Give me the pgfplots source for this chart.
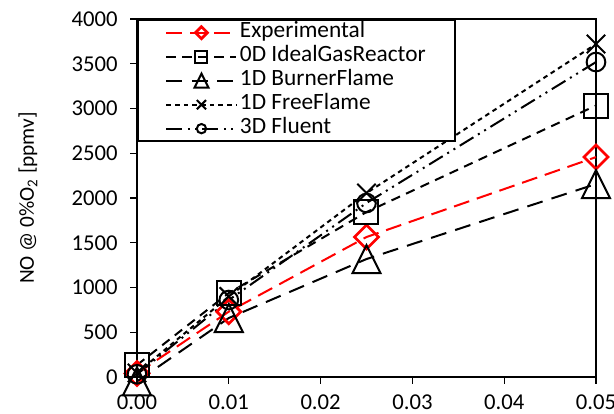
\documentclass[border=0pt]{standalone}
\usepackage{pgfplots}
\pgfplotsset{compat=1.18}
\usepackage{fontspec}
\setmainfont{Carlito}
\pgfdeclareplotmark{ediamond}{%
  \pgfpathmoveto{\pgfqpoint{0pt}{\pgfplotmarksize}}%
  \pgfpathlineto{\pgfqpoint{\pgfplotmarksize}{0pt}}%
  \pgfpathlineto{\pgfqpoint{0pt}{-\pgfplotmarksize}}%
  \pgfpathlineto{\pgfqpoint{-\pgfplotmarksize}{0pt}}%
  \pgfpathclose\pgfusepathqstroke}
\pgfdeclareplotmark{etri}{%
  \pgfpathmoveto{\pgfqpoint{0pt}{\pgfplotmarksize}}%
  \pgfpathlineto{\pgfqpoint{\pgfplotmarksize}{-\pgfplotmarksize}}%
  \pgfpathlineto{\pgfqpoint{-\pgfplotmarksize}{-\pgfplotmarksize}}%
  \pgfpathclose\pgfusepathqstroke}
\begin{document}
\begin{tikzpicture}
\begin{axis}[
  scale only axis,
  width=344.25pt, height=268.5pt,
  at={(0,0)}, anchor=south west,
  xmin=0, xmax=0.05, ymin=0, ymax=4000,
  xtick={0,0.01,0.02,0.03,0.04,0.05},
  ytick={0,500,1000,1500,2000,2500,3000,3500,4000},
  scaled x ticks=false, scaled y ticks=false,
  /pgf/number format/assume math mode=true,
  /pgf/number format/1000 sep={},
  tick label style={font=\fontsize{17}{20}\selectfont},
  xticklabel style={/pgf/number format/fixed, /pgf/number format/fixed zerofill, /pgf/number format/precision=2, yshift=-4.5pt},
  yticklabel style={xshift=-6pt},
  tick align=outside, major tick length=5pt,
  xtick pos=bottom, ytick pos=left,
  tick style={black, line width=1pt},
  axis line style={line width=1.2pt},
  clip=false,
  every axis y label/.style={at={(axis description cs:0,0.5)}, xshift=-81.75pt, rotate=90, anchor=center, font=\fontsize{16}{19}\selectfont},
  ylabel={NO @ 0\%O\textsubscript{2} [ppmv]},
  legend image code/.code={\path (0pt,0pt); \draw[mark repeat=2,mark phase=2,mark size=0.5\pgfplotmarksize,#1] plot coordinates {(0.5pt,0pt) (26.75pt,0pt) (53pt,0pt)};},
  legend style={at={(axis description cs:0,1)}, anchor=north west, draw=black, line width=1.5pt,
    inner xsep=20.1pt, inner ysep=0.5pt, row sep=0pt, font=\fontsize{17.5}{20}\selectfont,
    nodes={inner xsep=1.9pt, inner ysep=1pt, text height=12pt, text depth=4pt}},
  legend cell align=left,
]
\addplot[red, line width=1.5pt, dash pattern=on 12pt off 6pt, mark=ediamond, mark size=9pt, mark options={solid, line width=2pt}]
  coordinates {(0,40) (0.01,730) (0.025,1564) (0.05,2457)};
\addlegendentry{Experimental}
\addplot[black, line width=1.5pt, dash pattern=on 7pt off 5pt, mark=square, mark size=9pt, mark options={solid}]
  coordinates {(0,134) (0.01,938) (0.025,1843) (0.05,3033)};
\addlegendentry{0D IdealGasReactor}
\addplot[black, line width=1.5pt, dash pattern=on 12pt off 7pt, mark=etri, mark size=10.5pt, mark options={solid}]
  coordinates {(0,-50) (0.01,659) (0.025,1318) (0.05,2156)};
\addlegendentry{1D BurnerFlame}
\addplot[black, line width=1.5pt, dash pattern=on 3.5pt off 3pt, mark=x, mark size=9.75pt, mark options={solid}]
  coordinates {(0,45) (0.01,900) (0.025,2055) (0.05,3720)};
\addlegendentry{1D FreeFlame}
\addplot[black, line width=1.5pt, dash pattern=on 12pt off 4pt on 1.5pt off 4pt on 1.5pt off 4pt, mark=o, mark size=7pt, mark options={solid}]
  coordinates {(0,30) (0.01,860) (0.025,1944) (0.05,3519)};
\addlegendentry{3D Fluent}
\end{axis}
\pgfresetboundingbox
\useasboundingbox (-102.75pt,-27.75pt) rectangle (357.75pt,282.75pt);
\end{tikzpicture}
\end{document}
